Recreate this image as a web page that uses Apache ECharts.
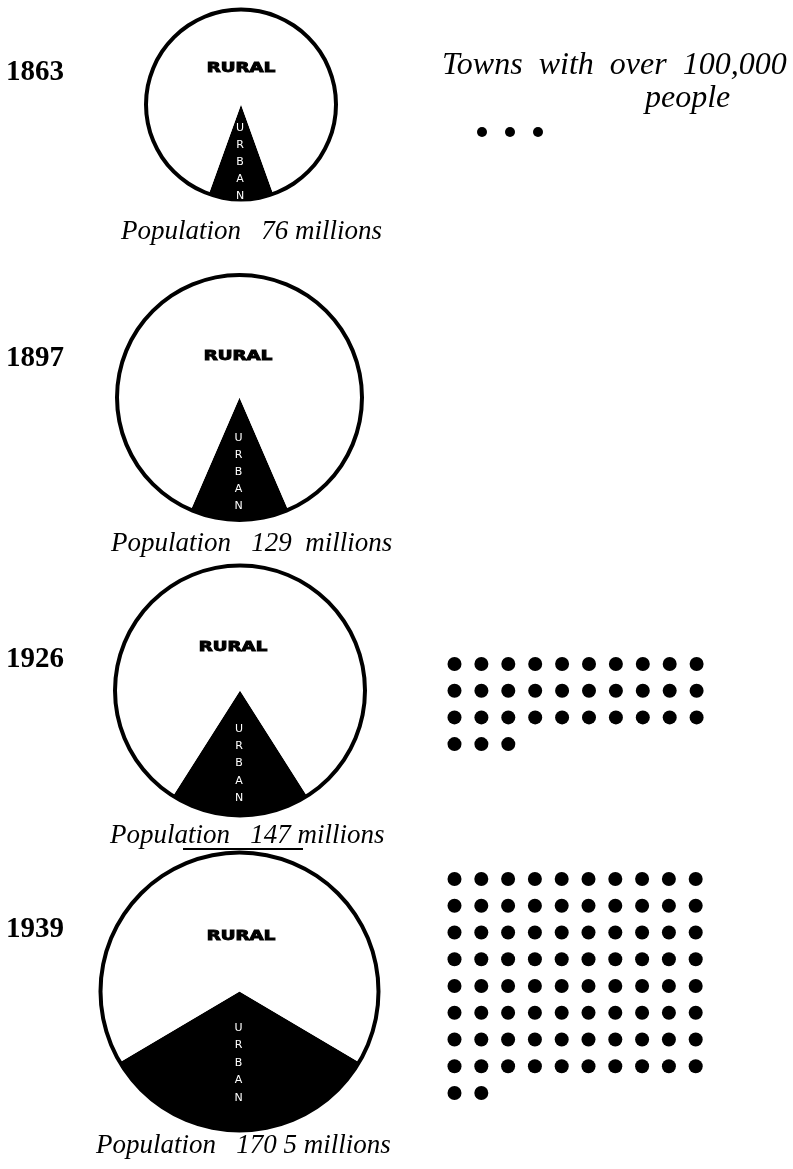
<!DOCTYPE html>
<html>
<head>
<meta charset="utf-8">
<title>Rural and urban population, 1863–1939</title>
<script src="https://cdn.jsdelivr.net/npm/echarts@6/dist/echarts.min.js"></script>
<style>
  html, body { margin: 0; padding: 0; background: #fff; }
  #chart { width: 793px; height: 1169px; }
</style>
</head>
<body>
<div id="chart"></div>
<script>
// ---- data ----
const years = ['1863', '1897', '1926', '1939'];
const population = [76, 129, 147, 170.5];            // millions
const populationLabels = ['76', '129', '147', '170 5'];
const urbanShare = [11, 13, 18, 33];                  // percent of population
const bigTowns = [3, 0, 33, 82];                      // towns with over 100,000 people

// ---- layout (pixels) ----
const rows = [
  { cx: 241,   cy: 104.5, r: 97,  yearY: 73,  popX: 121, popY: 232, popGap: '   ', popGap2: ' ',
    ruralX: 241, ruralY: 68,  urbanTop: 128, urbanStep: 17,
    dots: { x0: 482, y0: 132, px: 28, py: 28, size: 10 } },
  { cx: 239.5, cy: 397.5, r: 124.5, yearY: 359, popX: 111, popY: 544, popGap: '   ', popGap2: '  ',
    ruralX: 238, ruralY: 356, urbanTop: 438, urbanStep: 17,
    dots: { x0: 454.5, y0: 440, px: 26.9, py: 26.7, size: 14 } },
  { cx: 240,   cy: 690.5, r: 127, yearY: 660, popX: 110, popY: 836, popGap: '   ', popGap2: ' ',
    ruralX: 233, ruralY: 647, urbanTop: 729, urbanStep: 17.3,
    dots: { x0: 454.5, y0: 664, px: 26.9, py: 26.7, size: 14 } },
  { cx: 239.5, cy: 991.5, r: 141, yearY: 930, popX: 96,  popY: 1146, popGap: '   ', popGap2: ' ',
    ruralX: 241, ruralY: 936, urbanTop: 1028, urbanStep: 17.5,
    dots: { x0: 454.5, y0: 879, px: 26.8, py: 26.75, size: 14 } }
];

const RING = 4;          // outline thickness of each circle
const COLS = 10;         // dots per row
const SERIF = '"Liberation Serif", "Times New Roman", serif';
const SANS = '"DejaVu Sans", sans-serif';

const series = [];
const grid = [];
const xAxis = [];
const yAxis = [];
const graphic = [];

rows.forEach((L, i) => {
  const urbanDeg = urbanShare[i] / 100 * 360;

  // pie: urban wedge centred on the bottom of the circle, rural the rest
  series.push({
    type: 'pie',
    silent: true,
    animation: false,
    center: [L.cx, L.cy],
    radius: [0, L.r - RING / 2],
    startAngle: 270 + urbanDeg / 2,
    clockwise: true,
    label: { show: false },
    labelLine: { show: false },
    itemStyle: { borderWidth: 0 },
    data: [
      { name: 'Urban', value: urbanShare[i], itemStyle: { color: '#000' } },
      { name: 'Rural', value: 100 - urbanShare[i], itemStyle: { color: '#fff' } }
    ],
    z: 2
  });
  // circle outline
  series.push({
    type: 'pie',
    silent: true,
    animation: false,
    center: [L.cx, L.cy],
    radius: [L.r - RING, L.r],
    label: { show: false },
    labelLine: { show: false },
    itemStyle: { color: '#000', borderWidth: 0 },
    data: [{ name: 'Total', value: population[i] }],
    z: 3
  });

  // year
  graphic.push({
    type: 'text', x: 6, y: L.yearY, z: 100, silent: true,
    style: { text: years[i], font: 'bold 29px ' + SERIF, fill: '#000',
             align: 'left', verticalAlign: 'middle' }
  });
  // RURAL label
  graphic.push({
    type: 'text', x: L.ruralX, y: L.ruralY, scaleX: 1.3, z: 100, silent: true,
    style: { text: 'RURAL', font: 'bold 14px ' + SANS, fill: '#000',
             stroke: '#000', lineWidth: 1,
             align: 'center', verticalAlign: 'middle' }
  });
  // URBAN label, one letter per line
  graphic.push({
    type: 'text', x: L.cx - 1, y: L.urbanTop - L.urbanStep / 2, z: 100, silent: true,
    style: { text: 'URBAN'.split('').join('\n'), font: '11px ' + SANS, fill: '#fff',
             lineHeight: L.urbanStep, align: 'center', verticalAlign: 'top' }
  });
  // population caption
  graphic.push({
    type: 'text', x: L.popX, y: L.popY, z: 100, silent: true,
    style: { text: 'Population' + L.popGap + populationLabels[i] + L.popGap2 + 'millions',
             font: 'italic 27px ' + SERIF, fill: '#000', align: 'left', verticalAlign: 'middle' }
  });

  // towns with over 100,000 people, ten per row
  const n = bigTowns[i];
  if (n > 0) {
    const nRows = Math.ceil(n / COLS);
    const D = L.dots;
    grid.push({
      left: D.x0 - D.px / 2, top: D.y0 - D.py / 2,
      width: D.px * COLS, height: D.py * nRows, show: false
    });
    const gi = grid.length - 1;
    xAxis.push({ type: 'value', gridIndex: gi, min: -0.5, max: COLS - 0.5, show: false });
    yAxis.push({ type: 'value', gridIndex: gi, min: -0.5, max: nRows - 0.5, inverse: true, show: false });
    const pts = [];
    for (let k = 0; k < n; k++) pts.push([k % COLS, Math.floor(k / COLS)]);
    series.push({
      type: 'scatter', xAxisIndex: gi, yAxisIndex: gi, silent: true, animation: false,
      symbol: 'circle', symbolSize: D.size,
      itemStyle: { color: '#000', opacity: 1 }, data: pts
    });
  }
});

// heading for the dots
graphic.push({
  type: 'text', x: 442, y: 66, z: 100, silent: true,
  style: { text: 'Towns  with  over  100,000', font: 'italic 32px ' + SERIF, fill: '#000',
           align: 'left', verticalAlign: 'middle' }
});
graphic.push({
  type: 'text', x: 645, y: 99, z: 100, silent: true,
  style: { text: 'people', font: 'italic 32px ' + SERIF, fill: '#000',
           align: 'left', verticalAlign: 'middle' }
});
// rule printed under the 1926 caption
graphic.push({
  type: 'line', z: 100, silent: true,
  shape: { x1: 183, y1: 849, x2: 303, y2: 849 },
  style: { stroke: '#000', lineWidth: 2 }
});

const chart = echarts.init(document.getElementById('chart'), null, { renderer: 'canvas' });
chart.setOption({
  animation: false,
  backgroundColor: '#fff',
  grid, xAxis, yAxis, series, graphic
});
</script>
</body>
</html>
